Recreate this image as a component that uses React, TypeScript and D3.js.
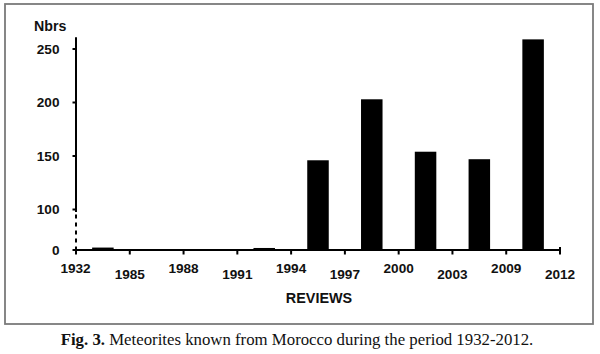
import * as d3 from 'd3';

const periods = ['1932-1985', '1985-1988', '1988-1991', '1991-1994', '1994-1997', '1997-2000', '2000-2003', '2003-2009', '2009-2012'];
const counts = [6, 0, 0, 5, 146, 203, 154, 147, 259];
const xTickLabels = ['1932', '1985', '1988', '1991', '1994', '1997', '2000', '2003', '2009', '2012'];
const yTicks = [0, 100, 150, 200, 250];

const W = 600;
const H = 354;

const App = () => {
  const x0 = 76;
  const x1 = 560;

  // broken axis: 0..100 squeezed, 100..250 linear
  const y = d3.scaleLinear().domain([0, 100, 250]).range([250, 209.5, 49]);

  const xBand = d3.scaleBand<string>()
    .domain(periods)
    .range([x0, x1])
    .paddingInner(0.6)
    .paddingOuter(0.3);

  const xTick = d3.scaleLinear().domain([0, xTickLabels.length - 1]).range([x0, x1]);

  const bold = "'Liberation Sans', Arial, sans-serif";

  return (
    <svg width={W} height={H} style={{ position: 'absolute', left: 0, top: 0, background: '#fff' }}>
      {/* frame */}
      <rect x={5} y={4} width={588} height={320} fill="none" stroke="#7a7a7a" strokeWidth={1.8} />

      {/* bars */}
      {periods.map((p, i) => counts[i] > 0 && (
        <rect key={p} x={xBand(p)} y={y(counts[i])} width={xBand.bandwidth()} height={y(0) - y(counts[i])} fill="#000" />
      ))}

      {/* y axis */}
      <line x1={x0} x2={x0} y1={y(261)} y2={y(100) + 2.5} stroke="#000" strokeWidth={2} />
      <line x1={x0} x2={x0} y1={y(100) + 5} y2={y(0)} stroke="#000" strokeWidth={2} strokeDasharray="4,4" />
      {yTicks.map(t => (
        <g key={t}>
          <line x1={x0 - 3.5} x2={x0} y1={y(t)} y2={y(t)} stroke="#000" strokeWidth={2} />
          <text x={59.5} y={y(t) + 4.8} textAnchor="end" fontFamily={bold} fontWeight="bold" fontSize={13.6} fill="#111">{t}</text>
        </g>
      ))}
      <text x={34} y={31} fontFamily={bold} fontWeight="bold" fontSize={14.2} fill="#111">Nbrs</text>

      {/* x axis */}
      <line x1={x0} x2={x1} y1={y(0)} y2={y(0)} stroke="#000" strokeWidth={2} />
      {xTickLabels.map((l, i) => (
        <g key={l}>
          <line x1={xTick(i)} x2={xTick(i)} y1={y(0) - (i === xTickLabels.length - 1 ? 3 : 0)} y2={y(0) + 4.5} stroke="#000" strokeWidth={2} />
          <text x={xTick(i) + (i === 0 ? -0.5 : 0)} y={i % 2 === 0 ? 272.7 : 279} textAnchor="middle" fontFamily={bold} fontWeight="bold" fontSize={13.6} fill="#111">{l}</text>
        </g>
      ))}
      <text x={319} y={303} textAnchor="middle" fontFamily={bold} fontWeight="bold" fontSize={14.4} fill="#111">REVIEWS</text>

      {/* caption */}
      <text x={297} y={345} textAnchor="middle" fontFamily="'Liberation Serif', 'Times New Roman', serif" fontSize={16.8} fill="#111">
        <tspan fontWeight="bold">Fig. 3.</tspan> Meteorites known from Morocco during the period 1932-2012.
      </text>
    </svg>
  );
};

export default App;
